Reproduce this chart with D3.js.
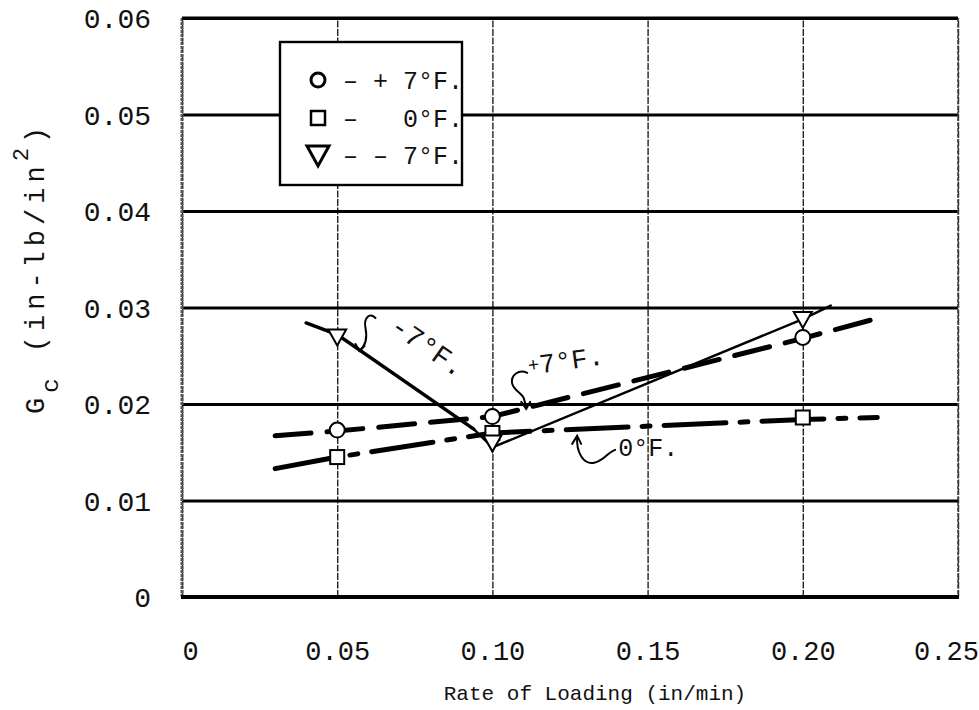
<!DOCTYPE html>
<html>
<head>
<meta charset="utf-8">
<script src="https://cdn.jsdelivr.net/npm/d3@7"></script>
<style>
  html, body { margin: 0; padding: 0; background: #fff; }
  svg { display: block; }
  text { font-family: "Liberation Mono", "DejaVu Sans Mono", monospace; fill: #111; }
</style>
</head>
<body>
<svg id="chart" width="979" height="710"></svg>
<script>
// Axis ticks
const rateTicks = [0, 0.05, 0.10, 0.15, 0.20, 0.25];
const rateTickLabels = ["0", "0.05", "0.10", "0.15", "0.20", "0.25"];
const gcTicks = [0, 0.01, 0.02, 0.03, 0.04, 0.05, 0.06];
const gcTickLabels = ["0", "0.01", "0.02", "0.03", "0.04", "0.05", "0.06"];

// Measured critical strain energy release rate at each loading rate
const rates = [0.05, 0.10, 0.20];
const gcPlus7 = [0.0173, 0.0187, 0.0269];
const gcZero = [0.0145, 0.0170, 0.0186];
const gcMinus7 = [0.0270, 0.0160, 0.0288];

// Faired curves drawn through the measurements
const plus7CurveRate = [0.030, 0.050, 0.100, 0.200, 0.222];
const plus7CurveGc = [0.0167, 0.0172, 0.0187, 0.0268, 0.0287];
const zeroCurveRate = [0.030, 0.050, 0.100, 0.200, 0.224];
const zeroCurveGc = [0.0133, 0.0145, 0.0170, 0.0184, 0.0186];
const minus7CurveRate = [0.040, 0.050, 0.094, 0.100, 0.200, 0.209];
const minus7CurveGc = [0.0284, 0.0272, 0.0174, 0.0155, 0.0288, 0.0302];

const svg = d3.select("#chart");
const plotL = 182, plotR = 958, plotT = 18, plotB = 597;
const x = d3.scaleLinear().domain([0, 0.25]).range([plotL, plotR]);
const y = d3.scaleLinear().domain([0, 0.06]).range([plotB, plotT]);

// Vertical grid + x tick labels
const gx = svg.append("g")
  .attr("transform", `translate(0,${plotB})`)
  .call(d3.axisBottom(x).tickValues(rateTicks)
    .tickFormat((d, i) => rateTickLabels[i])
    .tickSize(-(plotB - plotT)));
gx.select(".domain").remove();
gx.selectAll(".tick line")
  .attr("stroke", "#222").attr("stroke-width", 1.4)
  .attr("stroke-dasharray", "7,1.5");
gx.selectAll(".tick text")
  .attr("y", 63).attr("dy", 0)
  .attr("dx", (d, i) => i === 0 ? 8 : (i === rateTicks.length - 1 ? -12 : 0))
  .attr("font-size", 27).attr("fill", "#111")
  .attr("font-family", "Liberation Mono, DejaVu Sans Mono, monospace");

// Horizontal grid + y tick labels
const gy = svg.append("g")
  .attr("transform", `translate(${plotL},0)`)
  .call(d3.axisLeft(y).tickValues(gcTicks)
    .tickFormat((d, i) => gcTickLabels[i])
    .tickSize(-(plotR - plotL)));
gy.select(".domain").remove();
gy.selectAll(".tick line")
  .attr("stroke", "#000").attr("stroke-width", 2.8);
gy.selectAll(".tick text")
  .attr("x", -31).attr("dy", "0.35em")
  .attr("font-size", 28).attr("fill", "#111")
  .attr("font-family", "Liberation Mono, DejaVu Sans Mono, monospace");

// Frame
svg.append("line").attr("x1", plotL).attr("x2", plotL).attr("y1", plotT).attr("y2", plotB)
  .attr("stroke", "#555").attr("stroke-width", 3).attr("stroke-dasharray", "3,1");
svg.append("line").attr("x1", plotR).attr("x2", plotR).attr("y1", plotT).attr("y2", plotB)
  .attr("stroke", "#444").attr("stroke-width", 1.6).attr("stroke-dasharray", "4,1.5");
svg.append("line").attr("x1", plotL - 1).attr("x2", plotR + 1).attr("y1", plotB).attr("y2", plotB)
  .attr("stroke", "#000").attr("stroke-width", 4);
svg.append("line").attr("x1", plotL).attr("x2", plotR).attr("y1", plotT).attr("y2", plotT)
  .attr("stroke", "#000").attr("stroke-width", 2.8);

// Curves
const line = d3.line().x(d => x(d[0])).y(d => y(d[1]));
const plus7Pts = plus7CurveRate.map((r, i) => [r, plus7CurveGc[i]]);
const zeroPts = zeroCurveRate.map((r, i) => [r, zeroCurveGc[i]]);
const minus7Pts = minus7CurveRate.map((r, i) => [r, minus7CurveGc[i]]);

svg.append("path").attr("d", line(zeroPts))
  .attr("fill", "none").attr("stroke", "#000").attr("stroke-width", 5)
  .attr("stroke-linecap", "round").attr("stroke-dasharray", "62,14,8,14");
svg.append("path").attr("d", line(plus7Pts))
  .attr("fill", "none").attr("stroke", "#000").attr("stroke-width", 5)
  .attr("stroke-linecap", "round").attr("stroke-dasharray", "36,16");
svg.append("path").attr("d", line(minus7Pts.slice(0, 3)))
  .attr("fill", "none").attr("stroke", "#000").attr("stroke-width", 3.5)
  .attr("stroke-linecap", "round");
svg.append("path").attr("d", line(minus7Pts.slice(2)))
  .attr("fill", "none").attr("stroke", "#000").attr("stroke-width", 2.4)
  .attr("stroke-linejoin", "round").attr("stroke-linecap", "round");

// Markers
const markers = svg.append("g").attr("fill", "#fff").attr("stroke", "#000").attr("stroke-width", 2);
rates.forEach((r, i) => {
  markers.append("circle").attr("cx", x(r)).attr("cy", y(gcPlus7[i])).attr("r", 7.5);
  markers.append("rect").attr("x", x(r) - 7).attr("y", y(gcZero[i]) - 7)
    .attr("width", 14).attr("height", 14);
  const tx = x(r), ty = y(gcMinus7[i]);
  markers.append("path").attr("d", `M${tx - 9},${ty - 7}L${tx + 9},${ty - 7}L${tx},${ty + 9}Z`);
});

// Curve call-outs
const ann = svg.append("g");
function callout(px, py, pathD, headD) {
  ann.append("path").attr("d", pathD).attr("transform", `translate(${px},${py})`)
    .attr("fill", "none").attr("stroke", "#000").attr("stroke-width", 2).attr("stroke-linecap", "round");
  ann.append("path").attr("d", headD).attr("transform", `translate(${px},${py})`)
    .attr("fill", "none").attr("stroke", "#000").attr("stroke-width", 2).attr("stroke-linecap", "round");
}
// -7 F
{
  const px = x(0.0575), py = y(0.0255);
  callout(px, py, "M15,-33 C9,-39 3,-33 5,-23 C7,-13 5,-5 -1,0", "M-5,-7 L-1,0 L4,-5");
  ann.append("text").attr("transform", `translate(${px + 28},${py - 21}) rotate(35)`)
    .attr("font-size", 28).text("-7°F.");
}
// +7 F
{
  const px = x(0.1109), py = y(0.0195);
  callout(px, py, "M1,-36 C-7,-40 -16,-34 -14,-25 C-12,-17 -3,-16 -2,-9 L0,-1", "M-5,-7 L0,0 L4,-7");
  const t = ann.append("text").attr("transform", `translate(${px + 3},${py - 34}) rotate(-8)`)
    .attr("font-size", 27);
  t.append("tspan").attr("font-size", 19).attr("dy", -3).text("+");
  t.append("tspan").attr("dy", 3).text("7°F.");
}
// 0 F
{
  const px = x(0.1273), py = y(0.0167);
  callout(px, py, "M0,1 C-1,16 6,29 17,27 C27,25 31,16 38,14", "M-5,8 L0,0 L4,8");
  ann.append("text").attr("x", px + 41).attr("y", py + 20).attr("font-size", 25).text("0°F.");
}

// Legend
const lg = svg.append("g");
const boxL = 280, boxT = 42, boxR = 462, boxB = 185;
lg.append("rect").attr("x", boxL).attr("y", boxT).attr("width", boxR - boxL).attr("height", boxB - boxT)
  .attr("fill", "#fff").attr("stroke", "#000").attr("stroke-width", 2.4);
const legendRows = [
  { label: "– + 7°F.", cy: 80 },
  { label: "–   0°F.", cy: 118 },
  { label: "– – 7°F.", cy: 155 }
];
const symX = 318;
lg.append("circle").attr("cx", symX).attr("cy", legendRows[0].cy).attr("r", 7)
  .attr("fill", "#fff").attr("stroke", "#000").attr("stroke-width", 3);
lg.append("rect").attr("x", symX - 7).attr("y", legendRows[1].cy - 7).attr("width", 14).attr("height", 14)
  .attr("fill", "#fff").attr("stroke", "#000").attr("stroke-width", 2.5);
lg.append("path").attr("d", `M${symX - 11},${legendRows[2].cy - 9}L${symX + 11},${legendRows[2].cy - 9}L${symX},${legendRows[2].cy + 11}Z`)
  .attr("fill", "#fff").attr("stroke", "#000").attr("stroke-width", 3);
legendRows.forEach(r => {
  lg.append("text").attr("x", 343).attr("y", r.cy + 9).attr("font-size", 25)
    .style("white-space", "pre").text(r.label);
});

// Axis titles
svg.append("text").attr("x", 595).attr("y", 700).attr("text-anchor", "middle")
  .attr("font-size", 21).text("Rate of Loading (in/min)");

const yt = svg.append("text").attr("transform", "translate(44,414) rotate(-90)")
  .attr("font-size", 27).attr("letter-spacing", 5).style("white-space", "pre");
yt.append("tspan").text("G");
yt.append("tspan").attr("dy", 14).attr("font-size", 24).text("c");
yt.append("tspan").attr("dy", -14).text(" (in-lb/in");
yt.append("tspan").attr("dy", -16).attr("font-size", 22).text("2");
yt.append("tspan").attr("dy", 16).text(")");
</script>
</body>
</html>
